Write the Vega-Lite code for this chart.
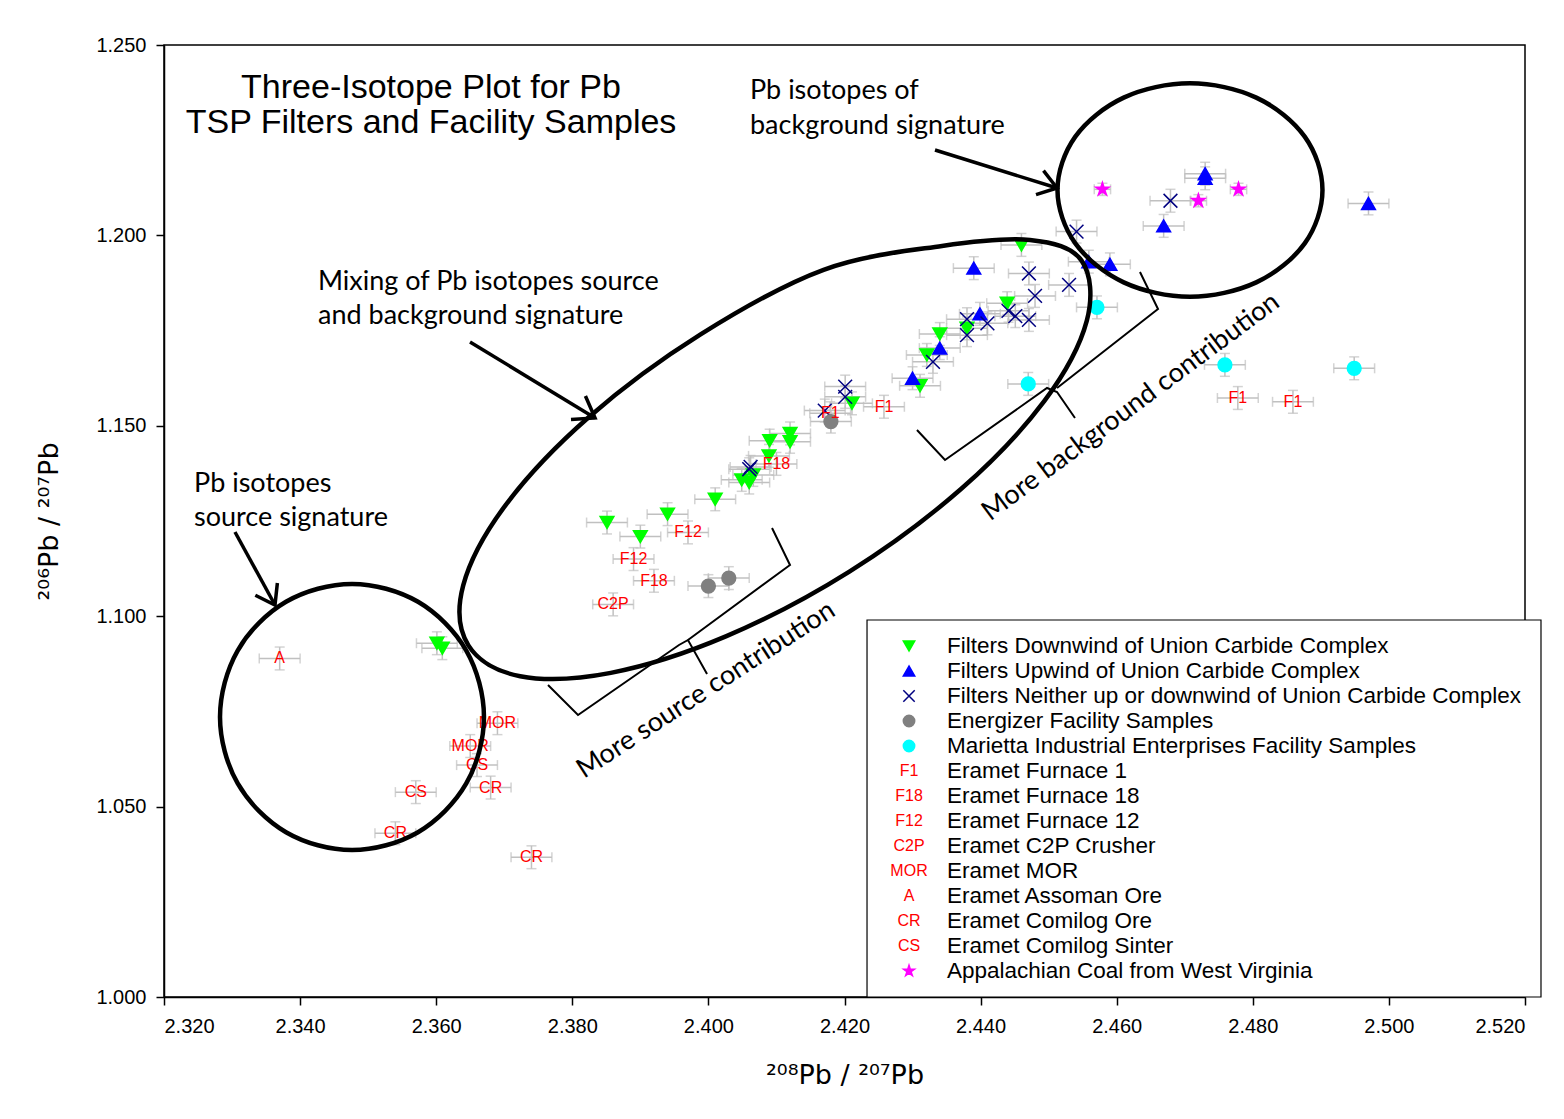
{
  "$schema": "https://vega.github.io/schema/vega-lite/v6.json",
  "width": 1361,
  "height": 952,
  "autosize": {"type": "none"},
  "padding": {"left": 164, "top": 45, "right": 39, "bottom": 122},
  "background": "white",
  "config": {
    "view": {"stroke": "black", "strokeWidth": 1.5},
    "axis": {
      "domainColor": "black", "domainWidth": 1.5, "tickColor": "black", "tickWidth": 1.5, "tickSize": 8,
      "labelColor": "black", "labelFont": "Liberation Sans", "labelFontSize": 20,
      "titleColor": "black", "titleFont": "DejaVu Sans", "titleFontSize": 27, "titleFontWeight": "normal",
      "grid": false
    }
  },
  "datasets": {
    "pts": [
      {"group": "down", "code": "", "x": 2.3851, "y": 1.1246, "ex": 0.003, "ey": 0.003},
      {"group": "down", "code": "", "x": 2.3900, "y": 1.1209, "ex": 0.003, "ey": 0.003},
      {"group": "down", "code": "", "x": 2.3940, "y": 1.1268, "ex": 0.003, "ey": 0.003},
      {"group": "down", "code": "", "x": 2.4010, "y": 1.1307, "ex": 0.003, "ey": 0.003},
      {"group": "down", "code": "", "x": 2.4049, "y": 1.1358, "ex": 0.003, "ey": 0.003},
      {"group": "down", "code": "", "x": 2.4060, "y": 1.1351, "ex": 0.003, "ey": 0.003},
      {"group": "down", "code": "", "x": 2.4066, "y": 1.1371, "ex": 0.003, "ey": 0.003},
      {"group": "down", "code": "", "x": 2.4089, "y": 1.1421, "ex": 0.003, "ey": 0.003},
      {"group": "down", "code": "", "x": 2.4090, "y": 1.1461, "ex": 0.003, "ey": 0.003},
      {"group": "down", "code": "", "x": 2.4120, "y": 1.1480, "ex": 0.003, "ey": 0.003},
      {"group": "down", "code": "", "x": 2.4120, "y": 1.1458, "ex": 0.003, "ey": 0.003},
      {"group": "down", "code": "", "x": 2.4211, "y": 1.1559, "ex": 0.003, "ey": 0.003},
      {"group": "down", "code": "", "x": 2.4460, "y": 1.1975, "ex": 0.003, "ey": 0.003},
      {"group": "down", "code": "", "x": 2.4439, "y": 1.1822, "ex": 0.003, "ey": 0.003},
      {"group": "down", "code": "", "x": 2.4380, "y": 1.1756, "ex": 0.003, "ey": 0.003},
      {"group": "down", "code": "", "x": 2.4340, "y": 1.1741, "ex": 0.003, "ey": 0.003},
      {"group": "down", "code": "", "x": 2.4321, "y": 1.1686, "ex": 0.003, "ey": 0.003},
      {"group": "down", "code": "", "x": 2.4311, "y": 1.1605, "ex": 0.003, "ey": 0.003},
      {"group": "down", "code": "", "x": 2.3601, "y": 1.0929, "ex": 0.003, "ey": 0.003},
      {"group": "down", "code": "", "x": 2.3609, "y": 1.0916, "ex": 0.003, "ey": 0.003},
      {"group": "up", "code": "", "x": 2.4390, "y": 1.1914, "ex": 0.003, "ey": 0.003},
      {"group": "up", "code": "", "x": 2.4399, "y": 1.1794, "ex": 0.003, "ey": 0.003},
      {"group": "up", "code": "", "x": 2.4340, "y": 1.1704, "ex": 0.003, "ey": 0.003},
      {"group": "up", "code": "", "x": 2.4300, "y": 1.1625, "ex": 0.003, "ey": 0.003},
      {"group": "up", "code": "", "x": 2.4559, "y": 1.1931, "ex": 0.003, "ey": 0.003},
      {"group": "up", "code": "", "x": 2.4590, "y": 1.1924, "ex": 0.003, "ey": 0.003},
      {"group": "up", "code": "", "x": 2.4669, "y": 1.2025, "ex": 0.003, "ey": 0.003},
      {"group": "up", "code": "", "x": 2.4730, "y": 1.2162, "ex": 0.003, "ey": 0.003},
      {"group": "up", "code": "", "x": 2.4730, "y": 1.2150, "ex": 0.003, "ey": 0.003},
      {"group": "up", "code": "", "x": 2.4970, "y": 1.2084, "ex": 0.003, "ey": 0.003},
      {"group": "x", "code": "", "x": 2.4060, "y": 1.1386, "ex": 0.003, "ey": 0.003},
      {"group": "x", "code": "", "x": 2.4062, "y": 1.1392, "ex": 0.003, "ey": 0.003},
      {"group": "x", "code": "", "x": 2.4201, "y": 1.1603, "ex": 0.003, "ey": 0.003},
      {"group": "x", "code": "", "x": 2.4201, "y": 1.1576, "ex": 0.003, "ey": 0.003},
      {"group": "x", "code": "", "x": 2.4171, "y": 1.1540, "ex": 0.003, "ey": 0.003},
      {"group": "x", "code": "", "x": 2.4541, "y": 1.2010, "ex": 0.003, "ey": 0.003},
      {"group": "x", "code": "", "x": 2.4471, "y": 1.1900, "ex": 0.003, "ey": 0.003},
      {"group": "x", "code": "", "x": 2.4530, "y": 1.1870, "ex": 0.003, "ey": 0.003},
      {"group": "x", "code": "", "x": 2.4480, "y": 1.1841, "ex": 0.003, "ey": 0.003},
      {"group": "x", "code": "", "x": 2.4380, "y": 1.1780, "ex": 0.003, "ey": 0.003},
      {"group": "x", "code": "", "x": 2.4410, "y": 1.1769, "ex": 0.003, "ey": 0.003},
      {"group": "x", "code": "", "x": 2.4380, "y": 1.1738, "ex": 0.003, "ey": 0.003},
      {"group": "x", "code": "", "x": 2.4441, "y": 1.1802, "ex": 0.003, "ey": 0.003},
      {"group": "x", "code": "", "x": 2.4451, "y": 1.1788, "ex": 0.003, "ey": 0.003},
      {"group": "x", "code": "", "x": 2.4471, "y": 1.1778, "ex": 0.003, "ey": 0.003},
      {"group": "x", "code": "", "x": 2.4330, "y": 1.1668, "ex": 0.003, "ey": 0.003},
      {"group": "x", "code": "", "x": 2.4679, "y": 1.2091, "ex": 0.003, "ey": 0.003},
      {"group": "energizer", "code": "", "x": 2.4180, "y": 1.1511, "ex": 0.003, "ey": 0.003},
      {"group": "energizer", "code": "", "x": 2.4000, "y": 1.1079, "ex": 0.003, "ey": 0.003},
      {"group": "energizer", "code": "", "x": 2.4030, "y": 1.1100, "ex": 0.003, "ey": 0.003},
      {"group": "marietta", "code": "", "x": 2.4571, "y": 1.1811, "ex": 0.003, "ey": 0.003},
      {"group": "marietta", "code": "", "x": 2.4470, "y": 1.1610, "ex": 0.003, "ey": 0.003},
      {"group": "marietta", "code": "", "x": 2.4759, "y": 1.1660, "ex": 0.003, "ey": 0.003},
      {"group": "marietta", "code": "", "x": 2.4949, "y": 1.1651, "ex": 0.003, "ey": 0.003},
      {"group": "coal", "code": "", "x": 2.4579, "y": 1.2121, "ex": 0.0012, "ey": 0.0016},
      {"group": "coal", "code": "", "x": 2.4720, "y": 1.2091, "ex": 0.0012, "ey": 0.0016},
      {"group": "coal", "code": "", "x": 2.4779, "y": 1.2121, "ex": 0.0012, "ey": 0.0016},
      {"group": "text", "code": "F1", "x": 2.4258, "y": 1.1550, "ex": 0.003, "ey": 0.003},
      {"group": "text", "code": "F1", "x": 2.4179, "y": 1.1533, "ex": 0.003, "ey": 0.003},
      {"group": "text", "code": "F1", "x": 2.4778, "y": 1.1573, "ex": 0.003, "ey": 0.003},
      {"group": "text", "code": "F1", "x": 2.4859, "y": 1.1563, "ex": 0.003, "ey": 0.003},
      {"group": "text", "code": "F18", "x": 2.4100, "y": 1.1400, "ex": 0.003, "ey": 0.003},
      {"group": "text", "code": "F18", "x": 2.3920, "y": 1.1093, "ex": 0.003, "ey": 0.003},
      {"group": "text", "code": "F12", "x": 2.3970, "y": 1.1220, "ex": 0.003, "ey": 0.003},
      {"group": "text", "code": "F12", "x": 2.3890, "y": 1.1150, "ex": 0.003, "ey": 0.003},
      {"group": "text", "code": "C2P", "x": 2.3860, "y": 1.1031, "ex": 0.003, "ey": 0.003},
      {"group": "text", "code": "MOR", "x": 2.3690, "y": 1.0719, "ex": 0.003, "ey": 0.003},
      {"group": "text", "code": "MOR", "x": 2.3650, "y": 1.0659, "ex": 0.003, "ey": 0.003},
      {"group": "text", "code": "A", "x": 2.3370, "y": 1.0889, "ex": 0.003, "ey": 0.003},
      {"group": "text", "code": "CR", "x": 2.3680, "y": 1.0550, "ex": 0.003, "ey": 0.003},
      {"group": "text", "code": "CR", "x": 2.3540, "y": 1.0430, "ex": 0.003, "ey": 0.003},
      {"group": "text", "code": "CR", "x": 2.3740, "y": 1.0367, "ex": 0.003, "ey": 0.003},
      {"group": "text", "code": "CS", "x": 2.3660, "y": 1.0609, "ex": 0.003, "ey": 0.003},
      {"group": "text", "code": "CS", "x": 2.3570, "y": 1.0538, "ex": 0.003, "ey": 0.003}
    ],
    "curves": [
      {"id": "c1", "i": 1, "x": 2.36702, "y": 1.07353},
      {"id": "c1", "i": 2, "x": 2.36442, "y": 1.05607},
      {"id": "c1", "i": 3, "x": 2.35733, "y": 1.04328},
      {"id": "c1", "i": 4, "x": 2.34763, "y": 1.03860},
      {"id": "c1", "i": 5, "x": 2.33793, "y": 1.04328},
      {"id": "c1", "i": 6, "x": 2.33083, "y": 1.05607},
      {"id": "c1", "i": 7, "x": 2.32823, "y": 1.07353},
      {"id": "c1", "i": 8, "x": 2.33083, "y": 1.09099},
      {"id": "c1", "i": 9, "x": 2.33793, "y": 1.10378},
      {"id": "c1", "i": 10, "x": 2.34763, "y": 1.10846},
      {"id": "c1", "i": 11, "x": 2.35733, "y": 1.10378},
      {"id": "c1", "i": 12, "x": 2.36442, "y": 1.09099},
      {"id": "c3", "i": 1, "x": 2.49024, "y": 1.21192},
      {"id": "c3", "i": 2, "x": 2.48763, "y": 1.19790},
      {"id": "c3", "i": 3, "x": 2.48051, "y": 1.18766},
      {"id": "c3", "i": 4, "x": 2.47077, "y": 1.18390},
      {"id": "c3", "i": 5, "x": 2.46103, "y": 1.18766},
      {"id": "c3", "i": 6, "x": 2.45392, "y": 1.19790},
      {"id": "c3", "i": 7, "x": 2.45130, "y": 1.21192},
      {"id": "c3", "i": 8, "x": 2.45392, "y": 1.22595},
      {"id": "c3", "i": 9, "x": 2.46103, "y": 1.23619},
      {"id": "c3", "i": 10, "x": 2.47077, "y": 1.23994},
      {"id": "c3", "i": 11, "x": 2.48051, "y": 1.23619},
      {"id": "c3", "i": 12, "x": 2.48763, "y": 1.22595},
      {"id": "c2", "i": 1, "x": 2.45484, "y": 1.19338},
      {"id": "c2", "i": 2, "x": 2.45561, "y": 1.17763},
      {"id": "c2", "i": 3, "x": 2.44938, "y": 1.15654},
      {"id": "c2", "i": 4, "x": 2.43712, "y": 1.13340},
      {"id": "c2", "i": 5, "x": 2.42072, "y": 1.11171},
      {"id": "c2", "i": 6, "x": 2.40265, "y": 1.09475},
      {"id": "c2", "i": 7, "x": 2.38566, "y": 1.08511},
      {"id": "c2", "i": 8, "x": 2.37234, "y": 1.08424},
      {"id": "c2", "i": 9, "x": 2.36473, "y": 1.09233},
      {"id": "c2", "i": 10, "x": 2.36397, "y": 1.10809},
      {"id": "c2", "i": 11, "x": 2.37020, "y": 1.12918},
      {"id": "c2", "i": 12, "x": 2.38245, "y": 1.15231},
      {"id": "c2", "i": 13, "x": 2.39885, "y": 1.17400},
      {"id": "c2", "i": 14, "x": 2.41693, "y": 1.19097},
      {"id": "c2", "i": 15, "x": 2.43433, "y": 1.19722},
      {"id": "c2", "i": 16, "x": 2.44726, "y": 1.19879}
    ],
    "arrows": [
      {"id": "a1s", "i": 1, "x": 2.43330, "y": 1.22243},
      {"id": "a1s", "i": 2, "x": 2.45123, "y": 1.21245},
      {"id": "a1h", "i": 1, "x": 2.44924, "y": 1.21702},
      {"id": "a1h", "i": 2, "x": 2.45123, "y": 1.21245},
      {"id": "a1h", "i": 3, "x": 2.44814, "y": 1.21069},
      {"id": "a2s", "i": 1, "x": 2.36497, "y": 1.17201},
      {"id": "a2s", "i": 2, "x": 2.38334, "y": 1.15205},
      {"id": "a2h", "i": 1, "x": 2.38193, "y": 1.15783},
      {"id": "a2h", "i": 2, "x": 2.38334, "y": 1.15205},
      {"id": "a2h", "i": 3, "x": 2.37981, "y": 1.15166},
      {"id": "a3s", "i": 1, "x": 2.33043, "y": 1.12211},
      {"id": "a3s", "i": 2, "x": 2.33631, "y": 1.10294},
      {"id": "a3h", "i": 1, "x": 2.33666, "y": 1.10872},
      {"id": "a3h", "i": 2, "x": 2.33631, "y": 1.10294},
      {"id": "a3h", "i": 3, "x": 2.33342, "y": 1.10549}
    ],
    "braces": [
      {"id": "b1", "i": 1, "x": 2.37643, "y": 1.08193},
      {"id": "b1", "i": 2, "x": 2.38084, "y": 1.07406},
      {"id": "b1", "i": 3, "x": 2.39568, "y": 1.09244},
      {"id": "b1", "i": 4, "x": 2.39700, "y": 1.09375},
      {"id": "b1", "i": 5, "x": 2.39980, "y": 1.08482},
      {"id": "b2", "i": 1, "x": 2.39700, "y": 1.09375},
      {"id": "b2", "i": 2, "x": 2.41199, "y": 1.11345},
      {"id": "b2", "i": 3, "x": 2.40935, "y": 1.12316},
      {"id": "b3", "i": 1, "x": 2.43065, "y": 1.14890},
      {"id": "b3", "i": 2, "x": 2.43477, "y": 1.14102},
      {"id": "b3", "i": 3, "x": 2.44976, "y": 1.15993},
      {"id": "b3", "i": 4, "x": 2.45123, "y": 1.15888},
      {"id": "b3", "i": 5, "x": 2.45387, "y": 1.15205},
      {"id": "b4", "i": 1, "x": 2.45123, "y": 1.15993},
      {"id": "b4", "i": 2, "x": 2.46607, "y": 1.18067},
      {"id": "b4", "i": 3, "x": 2.46342, "y": 1.19039}
    ],
    "notes": [
      {"k": "plain", "t": "Pb isotopes of", "x": 2.40611, "y": 1.23582},
      {"k": "plain", "t": "background signature", "x": 2.40611, "y": 1.22663},
      {"k": "plain", "t": "Mixing of Pb isotopes source", "x": 2.34263, "y": 1.18566},
      {"k": "plain", "t": "and background signature", "x": 2.34263, "y": 1.17673},
      {"k": "plain", "t": "Pb isotopes", "x": 2.32441, "y": 1.13262},
      {"k": "plain", "t": "source signature", "x": 2.32441, "y": 1.12369},
      {"k": "src", "t": "More source contribution", "x": 2.39965, "y": 1.08062},
      {"k": "bg", "t": "More background contribution", "x": 2.46210, "y": 1.15494},
      {"k": "title", "t": "Three-Isotope Plot for Pb", "x": 2.35924, "y": 1.23608},
      {"k": "title", "t": "TSP Filters and Facility Samples", "x": 2.35924, "y": 1.22689}
    ],
    "box": [{"x": 2.42331, "x2": 2.52235, "y": 1.0, "y2": 1.0990}],
    "legend": [
      {"x": 2.42948, "lx": 2.43506, "y": 1.09217, "group": "down", "code": null, "label": "Filters Downwind of Union Carbide Complex"},
      {"x": 2.42948, "lx": 2.43506, "y": 1.08561, "group": "up", "code": null, "label": "Filters Upwind of Union Carbide Complex"},
      {"x": 2.42948, "lx": 2.43506, "y": 1.07904, "group": "x", "code": null, "label": "Filters Neither up or downwind of Union Carbide Complex"},
      {"x": 2.42948, "lx": 2.43506, "y": 1.07248, "group": "energizer", "code": null, "label": "Energizer Facility Samples"},
      {"x": 2.42948, "lx": 2.43506, "y": 1.06591, "group": "marietta", "code": null, "label": "Marietta Industrial Enterprises Facility Samples"},
      {"x": 2.42948, "lx": 2.43506, "y": 1.05935, "group": null, "code": "F1", "label": "Eramet Furnace 1"},
      {"x": 2.42948, "lx": 2.43506, "y": 1.05278, "group": null, "code": "F18", "label": "Eramet Furnace 18"},
      {"x": 2.42948, "lx": 2.43506, "y": 1.04622, "group": null, "code": "F12", "label": "Eramet Furnace 12"},
      {"x": 2.42948, "lx": 2.43506, "y": 1.03965, "group": null, "code": "C2P", "label": "Eramet C2P Crusher"},
      {"x": 2.42948, "lx": 2.43506, "y": 1.03309, "group": null, "code": "MOR", "label": "Eramet MOR"},
      {"x": 2.42948, "lx": 2.43506, "y": 1.02653, "group": null, "code": "A", "label": "Eramet Assoman Ore"},
      {"x": 2.42948, "lx": 2.43506, "y": 1.01996, "group": null, "code": "CR", "label": "Eramet Comilog Ore"},
      {"x": 2.42948, "lx": 2.43506, "y": 1.01340, "group": null, "code": "CS", "label": "Eramet Comilog Sinter"},
      {"x": 2.42948, "lx": 2.43506, "y": 1.00683, "group": "coal", "code": null, "label": "Appalachian Coal from West Virginia"}
    ]
  },
  "encoding": {
    "x": {
      "field": "x", "type": "quantitative",
      "scale": {"domain": [2.32, 2.52], "nice": false, "zero": false},
      "axis": {"title": "²⁰⁸Pb / ²⁰⁷Pb", "orient": "bottom", "values": [2.32, 2.34, 2.36, 2.38, 2.40, 2.42, 2.44, 2.46, 2.48, 2.50, 2.52], "format": ".3f", "labelPadding": 11, "titlePadding": 26}
    },
    "y": {
      "field": "y", "type": "quantitative",
      "scale": {"domain": [1.0, 1.25], "nice": false, "zero": false},
      "axis": {"title": "²⁰⁶Pb / ²⁰⁷Pb", "orient": "left", "values": [1.0, 1.05, 1.1, 1.15, 1.2, 1.25], "format": ".3f", "labelPadding": 10, "titlePadding": 32}
    }
  },
  "layer": [
    {
      "data": {"name": "pts"},
      "mark": {"type": "errorbar", "ticks": {"size": 10}, "color": "#c0c0c0", "thickness": 1.5},
      "encoding": {"xError": {"field": "ex"}}
    },
    {
      "data": {"name": "pts"},
      "mark": {"type": "errorbar", "ticks": {"size": 10}, "color": "#c0c0c0", "thickness": 1.5},
      "encoding": {"yError": {"field": "ey"}}
    },
    {
      "data": {"name": "pts"},
      "transform": [{"filter": "datum.group != 'text'"}],
      "mark": {"type": "point", "filled": true, "opacity": 1, "size": 190, "strokeWidth": 1.5},
      "encoding": {
        "shape": {"field": "group", "type": "nominal", "legend": null,
          "scale": {"domain": ["down", "up", "x", "energizer", "marietta", "coal"], "range": ["triangle-down", "triangle-up", "M-1,-1L1,1M-1,1L1,-1", "circle", "circle", "M0,-1L0.2245,-0.309L0.9511,-0.309L0.3633,0.118L0.5878,0.809L0,0.382L-0.5878,0.809L-0.3633,0.118L-0.9511,-0.309L-0.2245,-0.309Z"]}},
        "fill": {"field": "group", "type": "nominal", "legend": null,
          "scale": {"domain": ["down", "up", "x", "energizer", "marietta", "coal"], "range": ["#00ff00", "#0000ff", "#000080", "#808080", "#00ffff", "#ff00ff"]}},
        "stroke": {"field": "group", "type": "nominal", "legend": null,
          "scale": {"domain": ["down", "up", "x", "energizer", "marietta", "coal"], "range": ["#00ff00", "#0000ff", "#000080", "#808080", "#00ffff", "#ff00ff"]}}
      }
    },
    {
      "data": {"name": "pts"},
      "transform": [{"filter": "datum.group == 'text'"}],
      "mark": {"type": "text", "font": "Liberation Sans", "fontSize": 16, "color": "#ff0000", "align": "center", "baseline": "middle"},
      "encoding": {"text": {"field": "code"}}
    },
    {
      "data": {"name": "curves"},
      "mark": {"type": "line", "interpolate": "cardinal-closed", "color": "black", "strokeWidth": 4.5},
      "encoding": {"detail": {"field": "id"}, "order": {"field": "i", "type": "quantitative"}}
    },
    {
      "data": {"name": "arrows"},
      "mark": {"type": "line", "color": "black", "strokeWidth": 3.5, "strokeJoin": "miter", "strokeCap": "butt"},
      "encoding": {"detail": {"field": "id"}, "order": {"field": "i", "type": "quantitative"}}
    },
    {
      "data": {"name": "braces"},
      "mark": {"type": "line", "color": "black", "strokeWidth": 2},
      "encoding": {"detail": {"field": "id"}, "order": {"field": "i", "type": "quantitative"}}
    },
    {
      "data": {"name": "notes"},
      "transform": [{"filter": "datum.k == 'plain'"}],
      "mark": {"type": "text", "font": "Lato", "fontSize": 27, "align": "left", "baseline": "alphabetic", "color": "black"},
      "encoding": {"text": {"field": "t"}}
    },
    {
      "data": {"name": "notes"},
      "transform": [{"filter": "datum.k == 'src'"}],
      "mark": {"type": "text", "font": "Lato", "fontSize": 27, "align": "center", "baseline": "middle", "angle": 327, "color": "black"},
      "encoding": {"text": {"field": "t"}}
    },
    {
      "data": {"name": "notes"},
      "transform": [{"filter": "datum.k == 'bg'"}],
      "mark": {"type": "text", "font": "Lato", "fontSize": 27, "align": "center", "baseline": "middle", "angle": 323.4, "color": "black"},
      "encoding": {"text": {"field": "t"}}
    },
    {
      "data": {"name": "notes"},
      "transform": [{"filter": "datum.k == 'title'"}],
      "mark": {"type": "text", "font": "Liberation Sans", "fontSize": 34, "align": "center", "baseline": "alphabetic", "color": "black"},
      "encoding": {"text": {"field": "t"}}
    },
    {
      "data": {"name": "box"},
      "mark": {"type": "rect", "fill": "white", "stroke": "black", "strokeWidth": 1.2},
      "encoding": {"x2": {"field": "x2"}, "y2": {"field": "y2"}}
    },
    {
      "data": {"name": "legend"},
      "transform": [{"filter": "datum.group != null"}],
      "mark": {"type": "point", "filled": true, "opacity": 1, "size": 130, "strokeWidth": 1.5},
      "encoding": {
        "shape": {"field": "group", "type": "nominal", "legend": null,
          "scale": {"domain": ["down", "up", "x", "energizer", "marietta", "coal"], "range": ["triangle-down", "triangle-up", "M-1,-1L1,1M-1,1L1,-1", "circle", "circle", "M0,-1L0.2245,-0.309L0.9511,-0.309L0.3633,0.118L0.5878,0.809L0,0.382L-0.5878,0.809L-0.3633,0.118L-0.9511,-0.309L-0.2245,-0.309Z"]}},
        "fill": {"field": "group", "type": "nominal", "legend": null,
          "scale": {"domain": ["down", "up", "x", "energizer", "marietta", "coal"], "range": ["#00ff00", "#0000ff", "#000080", "#808080", "#00ffff", "#ff00ff"]}},
        "stroke": {"field": "group", "type": "nominal", "legend": null,
          "scale": {"domain": ["down", "up", "x", "energizer", "marietta", "coal"], "range": ["#00ff00", "#0000ff", "#000080", "#808080", "#00ffff", "#ff00ff"]}}
      }
    },
    {
      "data": {"name": "legend"},
      "transform": [{"filter": "datum.code != null"}],
      "mark": {"type": "text", "font": "Liberation Sans", "fontSize": 16, "color": "#ff0000", "align": "center", "baseline": "middle"},
      "encoding": {"text": {"field": "code"}}
    },
    {
      "data": {"name": "legend"},
      "mark": {"type": "text", "font": "Liberation Sans", "fontSize": 22.5, "color": "black", "align": "left", "baseline": "middle"},
      "encoding": {"x": {"field": "lx", "type": "quantitative"}, "text": {"field": "label"}}
    }
  ]
}
